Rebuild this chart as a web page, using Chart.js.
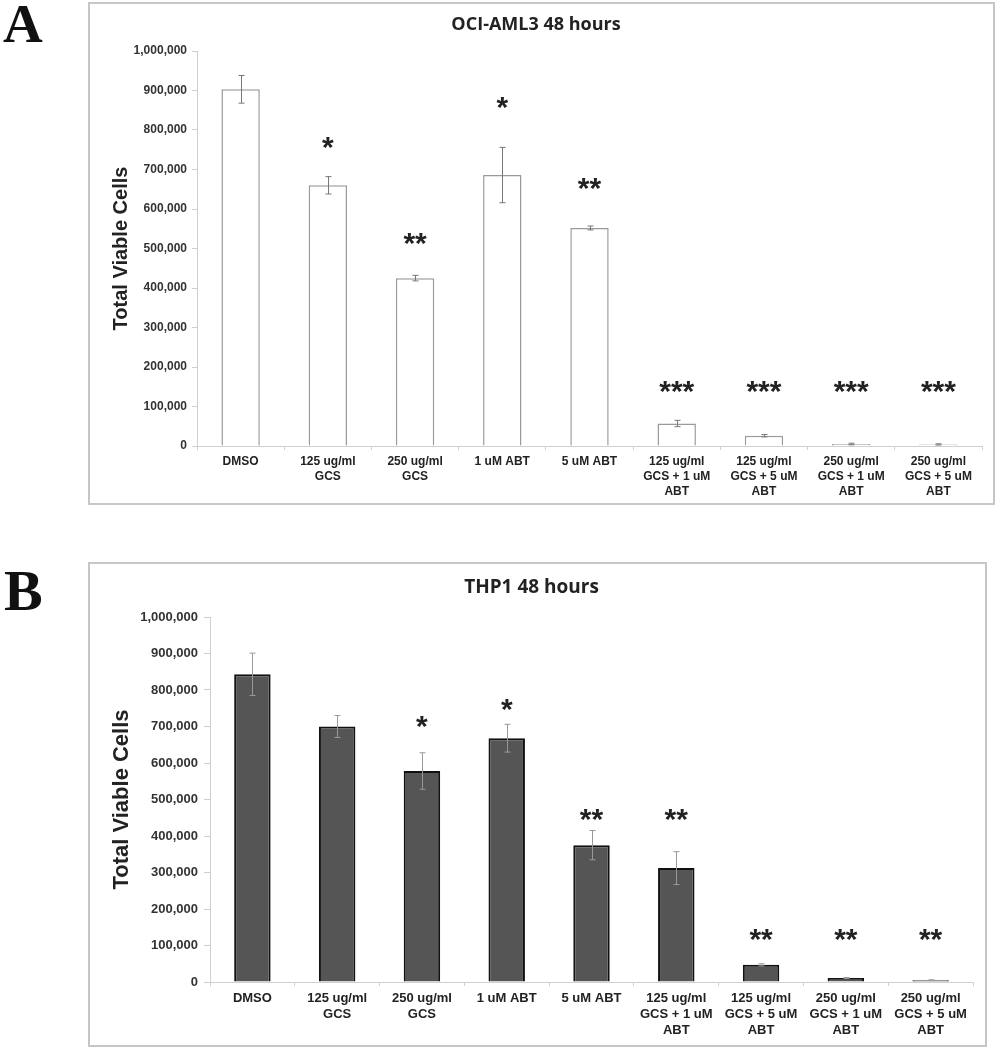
<!DOCTYPE html>
<html><head><meta charset="utf-8">
<script src="https://cdn.jsdelivr.net/npm/chart.js@4.4.0/dist/chart.umd.min.js"></script>
<style>
body{margin:0;background:#fff;width:998px;height:1050px;position:relative;overflow:hidden;font-family:Arial,"Liberation Sans",sans-serif}
.letter{position:absolute;font-family:"Liberation Serif","Times New Roman",serif;font-weight:bold;color:#111;line-height:1}
.frame{position:absolute;border:2px solid #c6c6c6;box-sizing:border-box;background:#fff}
.frame canvas{position:absolute;left:0;top:0}
</style></head><body>
<div class="letter" style="left:3px;top:-4px;font-size:55px">A</div>
<div class="letter" style="left:4px;top:562px;font-size:58px">B</div>
<div class="frame" style="left:88px;top:2px;width:907px;height:503px"><canvas id="cA" width="903" height="499"></canvas></div>
<div class="frame" style="left:88px;top:562px;width:899px;height:485px"><canvas id="cB" width="895" height="481"></canvas></div>
<script>
// ---- data ----
const categories = [
  ["DMSO"],
  ["125 ug/ml","GCS"],
  ["250 ug/ml","GCS"],
  ["1 uM ABT"],
  ["5 uM ABT"],
  ["125 ug/ml","GCS + 1 uM","ABT"],
  ["125 ug/ml","GCS + 5 uM","ABT"],
  ["250 ug/ml","GCS + 1 uM","ABT"],
  ["250 ug/ml","GCS + 5 uM","ABT"]
];
const yTickValues = [0,100000,200000,300000,400000,500000,600000,700000,800000,900000,1000000];

const ociTitle = "OCI-AML3 48 hours";
const ociMeans = [903000, 660000, 425000, 686000, 552000, 57000, 26000, 5000, 4000];
const ociErr   = [35000, 22000, 7000, 70000, 5000, 8000, 3000, 2000, 1500];
const ociStars = ["", "*", "**", "*", "**", "***", "***", "***", "***"];
const ociStarLevel = [null, 775000, 532000, 878000, 673000, 157000, 157000, 157000, 157000];

const thpTitle = "THP1 48 hours";
const thpMeans = [843000, 700000, 578000, 668000, 375000, 312000, 47000, 11000, 5000];
const thpErr   = [58000, 30000, 50000, 38000, 40000, 45000, 3000, 1500, 1000];
const thpStars = ["", "", "*", "*", "**", "**", "**", "**", "**"];
const thpStarLevel = [null, null, 723000, 767000, 466000, 466000, 137000, 137000, 137000];

// ---- plugins ----
const errorBarPlugin = {
  id: 'errbars',
  afterDatasetsDraw(chart, args, opts) {
    const ctx = chart.ctx, y = chart.scales.y;
    const meta = chart.getDatasetMeta(0);
    ctx.save();
    ctx.strokeStyle = opts.color; ctx.lineWidth = 1;
    meta.data.forEach((el, i) => {
      const v = opts.means[i], e = opts.errs[i];
      const x = Math.round(el.x) + 0.5;
      const yt = y.getPixelForValue(v + e), yb = y.getPixelForValue(Math.max(0, v - e));
      ctx.beginPath();
      ctx.moveTo(x, yt); ctx.lineTo(x, yb);
      ctx.moveTo(x - 3, yt); ctx.lineTo(x + 3, yt);
      ctx.moveTo(x - 3, yb); ctx.lineTo(x + 3, yb);
      ctx.stroke();
    });
    ctx.restore();
  }
};
const starPlugin = {
  id: 'stars',
  afterDatasetsDraw(chart, args, opts) {
    const ctx = chart.ctx, y = chart.scales.y;
    const meta = chart.getDatasetMeta(0);
    ctx.save();
    ctx.fillStyle = '#222';
    ctx.font = 'bold ' + opts.size + 'px Arial, "Liberation Sans"';
    ctx.textAlign = 'center'; ctx.textBaseline = 'alphabetic';
    meta.data.forEach((el, i) => {
      if (!opts.labels[i]) return;
      const yc = y.getPixelForValue(opts.levels[i]);
      ctx.fillText(opts.labels[i], el.x, yc + opts.size * 0.58);
    });
    ctx.restore();
  }
};

function makeChart(id, cfg) {
  return new Chart(document.getElementById(id), {
    type: 'bar',
    data: {
      labels: categories,
      datasets: [{
        data: cfg.means,
        backgroundColor: cfg.fill,
        borderColor: cfg.stroke,
        borderWidth: cfg.bw,
        barPercentage: cfg.barPct,
        categoryPercentage: 1
      }]
    },
    options: {
      responsive: false,
      animation: false,
      layout: { padding: { left: 0, right: cfg.padRight, top: 0, bottom: 0 } },
      plugins: {
        legend: { display: false },
        tooltip: { enabled: false },
        title: {
          display: true, text: cfg.title, color: '#222',
          font: { family: '"Open Sans", sans-serif', size: cfg.titleSize, weight: 'bold', lineHeight: 1.2 },
          padding: { top: cfg.titleTop, bottom: cfg.titleBottom }
        },
        errbars: { means: cfg.means, errs: cfg.errs, color: cfg.errColor },
        stars: { labels: cfg.stars, levels: cfg.starLevels, size: 30 }
      },
      scales: {
        x: {
          afterFit: s => { s.height = cfg.xHeight; },
          grid: { display: true, drawOnChartArea: false, drawTicks: true, tickLength: 4, color: '#d0d0d0', offset: true },
          border: { color: '#d0d0d0', width: 1 },
          ticks: { color: '#222', padding: 4, maxRotation: 0, autoSkip: false,
                   font: { family: 'Arial, "Liberation Sans"', size: cfg.xTickSize, weight: 'bold', lineHeight: 1.25 } }
        },
        y: {
          min: 0, max: 1000000,
          afterFit: s => { s.width = cfg.yWidth; },
          afterBuildTicks: s => { s.ticks = yTickValues.map(v => ({ value: v })); },
          grid: { display: true, drawOnChartArea: false, drawTicks: true, tickLength: cfg.yTickLen, color: '#d0d0d0' },
          border: { color: '#d0d0d0', width: 1 },
          ticks: { color: '#333', padding: cfg.yTickPad,
                   font: { family: 'Arial, "Liberation Sans"', size: cfg.yTickSize, weight: 'bold' },
                   callback: v => v.toLocaleString('en-US') },
          title: { display: true, text: 'Total Viable Cells', color: '#222',
                   font: { family: 'Arial, "Liberation Sans"', size: cfg.yTitleSize, weight: 'bold' },
                   padding: { top: cfg.yTitlePad, bottom: 0 } }
        }
      }
    },
    plugins: [errorBarPlugin, starPlugin]
  });
}

makeChart('cA', {
  title: ociTitle, means: ociMeans, errs: ociErr, stars: ociStars, starLevels: ociStarLevel,
  fill: '#ffffff', stroke: '#9a9a9a', bw: 1.5, barPct: 0.44, errColor: '#777',
  padRight: 11, titleSize: 18, titleTop: 10, titleBottom: 15.4,
  xHeight: 57, yWidth: 107, yTickLen: 5, yTickPad: 5, yTickSize: 12, xTickSize: 12, yTitleSize: 20, yTitlePad: 19
});
makeChart('cB', {
  title: thpTitle, means: thpMeans, errs: thpErr, stars: thpStars, starLevels: thpStarLevel,
  fill: '#555555', stroke: '#111111', bw: 2, barPct: 0.43, errColor: '#999',
  padRight: 12, titleSize: 19, titleTop: 12, titleBottom: 18.2,
  xHeight: 63, yWidth: 120, yTickLen: 6, yTickPad: 6, yTickSize: 13, xTickSize: 13, yTitleSize: 22, yTitlePad: 19
});
</script>
</body></html>
